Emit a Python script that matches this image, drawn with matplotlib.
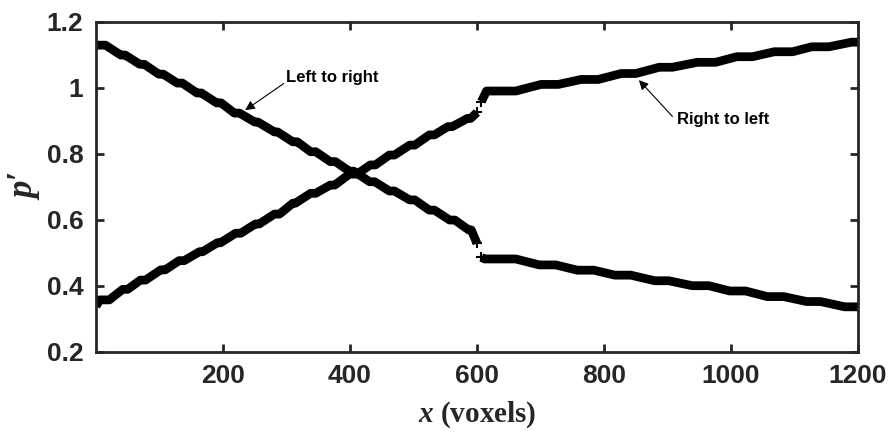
import numpy as np
import matplotlib
matplotlib.use("Agg")
import matplotlib.pyplot as plt

# flats: start x, end x, level (voxels, p')
ltr_left_x0 = [0, 39, 69, 99, 128, 159, 190, 218, 250, 281, 310, 338, 369, 399, 431, 462, 494, 525, 557, 587, 600]
ltr_left_x1 = [15, 46, 76, 106, 136, 166, 197, 226, 255, 286, 317, 346, 377, 406, 439, 470, 502, 533, 565, 591, 600]
ltr_left_y = [1.129, 1.099, 1.071, 1.041, 1.014, 0.984, 0.954, 0.923, 0.896, 0.866, 0.836, 0.806, 0.776,
              0.747, 0.715, 0.687, 0.660, 0.629, 0.599, 0.569, 0.528]

ltr_right_x0 = [607, 612, 698, 758, 817, 880, 939, 998, 1057, 1119, 1179]
ltr_right_x1 = [607, 661, 724, 784, 842, 902, 965, 1023, 1083, 1141, 1200]
ltr_right_y = [0.486, 0.481, 0.463, 0.447, 0.432, 0.415, 0.400, 0.384, 0.367, 0.352, 0.336]

rtl_left_x0 = [0, 6, 42, 70, 102, 131, 163, 191, 220, 251, 281, 310, 338, 369, 399, 432, 462, 494, 525, 554, 585, 600]
rtl_left_x1 = [0, 21, 50, 78, 109, 139, 168, 196, 228, 257, 289, 314, 346, 376, 411, 440, 470, 502, 533, 561, 590, 600]
rtl_left_y = [0.338, 0.357, 0.389, 0.417, 0.448, 0.476, 0.503, 0.530, 0.559, 0.587, 0.617, 0.650, 0.680,
              0.705, 0.738, 0.766, 0.796, 0.826, 0.857, 0.882, 0.907, 0.925]

rtl_right_x0 = [607, 615, 701, 764, 827, 887, 947, 1009, 1068, 1127, 1190]
rtl_right_x1 = [607, 661, 728, 791, 850, 908, 976, 1034, 1097, 1154, 1200]
rtl_right_y = [0.958, 0.990, 1.010, 1.025, 1.043, 1.062, 1.077, 1.094, 1.109, 1.124, 1.138]

xticks = [200, 400, 600, 800, 1000, 1200]
yticks = [0.2, 0.4, 0.6, 0.8, 1.0, 1.2]
ytick_labels = ['0.2', '0.4', '0.6', '0.8', '1', '1.2']

plt.rcParams['mathtext.fontset'] = 'custom'
plt.rcParams['mathtext.it'] = 'Liberation Serif:italic:bold'
plt.rcParams['mathtext.rm'] = 'Liberation Serif:bold'

fig = plt.figure(figsize=(8.96, 4.37), dpi=100)
ax = fig.add_axes([0.1071, 0.1952, 0.8505, 0.7551])


def vertices(x0, x1, y):
    xs, ys = [], []
    for a, b, c in zip(x0, x1, y):
        xs += [a, b]
        ys += [c, c]
    return np.array(xs), np.array(ys)


for x0, x1, y in [(ltr_left_x0, ltr_left_x1, ltr_left_y),
                  (ltr_right_x0, ltr_right_x1, ltr_right_y),
                  (rtl_left_x0, rtl_left_x1, rtl_left_y),
                  (rtl_right_x0, rtl_right_x1, rtl_right_y)]:
    xs, ys = vertices(x0, x1, y)
    ax.plot(xs, ys, color='black', lw=6.3, solid_joinstyle='round', solid_capstyle='butt')
    ax.plot([xs[0], xs[-1]], [ys[0], ys[-1]], '+', color='black', ms=7, mew=1.5)

ax.set_xlim(0, 1200)
ax.set_ylim(0.2, 1.2)
ax.set_xticks(xticks)
ax.set_yticks(yticks)
ax.set_yticklabels(ytick_labels)
for s in ax.spines.values():
    s.set_linewidth(2)
    s.set_color('#262626')
ax.tick_params(direction='in', length=6, width=2, color='#262626', top=True, right=True,
               labelsize=19, pad=9)
for lab in ax.get_xticklabels() + ax.get_yticklabels():
    lab.set_fontfamily('Liberation Sans')
    lab.set_fontweight('bold')
    lab.set_color('#262626')

ax.set_xlabel(r'$x$ (voxels)', fontfamily='Liberation Serif', fontweight='bold',
              fontsize=21, color='#262626', labelpad=8)
ax.set_ylabel("p\u2032", fontfamily='Liberation Serif', fontstyle='italic', fontweight='bold',
              fontsize=25, color='#262626', labelpad=3)

ax.annotate('Left to right', xy=(235, 0.932), xytext=(300, 1.032),
            fontfamily='Liberation Sans', fontweight='bold', fontsize=12, va='center',
            arrowprops=dict(arrowstyle='-|>', color='black', lw=0.8,
                            mutation_scale=14, shrinkA=0, shrinkB=0,
                            relpos=(0, 0.2)))
ax.annotate('Right to left', xy=(855, 1.023), xytext=(915, 0.904),
            fontfamily='Liberation Sans', fontweight='bold', fontsize=12, va='center',
            arrowprops=dict(arrowstyle='-|>', color='black', lw=0.8,
                            mutation_scale=14, shrinkA=0, shrinkB=0,
                            relpos=(-0.05, 0.7)))

fig.savefig('out.png', dpi=100)
